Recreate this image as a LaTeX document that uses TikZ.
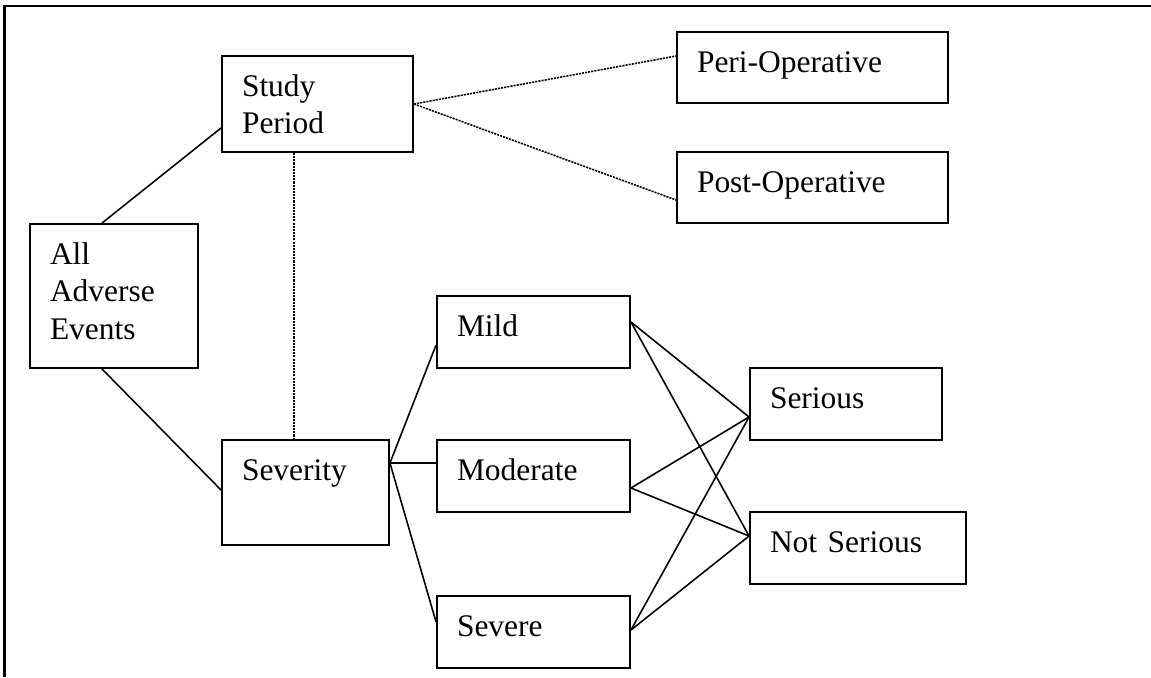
\documentclass[tikz,border=0pt]{standalone}
\usepackage{fontspec}
\setmainfont{Liberation Serif}
\usetikzlibrary{calc}

\begin{document}
\begin{tikzpicture}[
    x=0.02cm, y=-0.02cm,
    box/.style={draw, line width=1.1pt, inner sep=0pt, text height=0.8cm,
        text depth=0.64cm, font=\fontsize{17.9}{21.6}\selectfont,
        execute at begin node={\leftskip=0.4cm\rightskip=0pt plus 1fil}},
    link/.style={line width=0.9pt},
    faint/.style={line width=0.9pt, dash pattern=on 1.2pt off 0.6pt}
]
\useasboundingbox (0,0) rectangle (1151,677);
% --- Frame ---
\draw[line width=1.5pt] (4.5,677) -- (4.5,6) -- (1151,6);

% --- Root and study period ---
\node[box, text width=3.36cm, text depth=2.08cm] (all) at (114,296) {All\\Adverse\\Events};
\node[box, text width=3.82cm, text depth=1.12cm] (study) at (317.5,104) {Study\\Period};
\node[box, text width=5.42cm, text depth=0.62cm] (peri) at (812.5,67.5) {Peri-Operative};
\node[box, text width=5.42cm, text depth=0.62cm] (post) at (812.5,187.5) {Post-Operative};

% --- Severity ---
\node[box, text width=3.34cm, text depth=1.3cm] (severity) at (305.5,492.5) {Severity};
\node[box, text width=3.86cm] (mild) at (533.5,332) {Mild};
\node[box, text width=3.86cm] (moderate) at (533.5,476) {Moderate};
\node[box, text width=3.86cm] (severe) at (533.5,632) {Severe};
\node[box, text width=3.84cm] (serious) at (846,404) {Serious};
\node[box, text width=4.32cm] (notserious) at (858,548) {Not Serious};

% Connectors
\draw[link] ($(all.north)+(-12,0)$) -- ($(study.west)+(0,24)$);
\draw[link] ($(all.south)+(-12,0)$) -- ($(severity.west)+(0,-2.5)$);
\draw[faint] ($(study.south)+(-23.5,0)$) -- ($(severity.north)+(-11.5,0)$);
\draw[faint] (study.east) -- ($(peri.west)+(0,-11.5)$);
\draw[faint] (study.east) -- ($(post.west)+(0,12.5)$);

\draw[link] ($(severity.east)+(0,-29.5)$) -- ($(mild.west)+(0,13)$);
\draw[link] ($(severity.east)+(0,-29.5)$) -- ($(moderate.west)+(0,-13)$);
\draw[link] ($(severity.east)+(0,-29.5)$) -- ($(severe.west)+(0,-10)$);

\foreach \src/\dy in {mild/-10, moderate/12, severe/-2} {
    \draw[link] ($(\src.east)+(0,\dy)$) -- ($(serious.west)+(0,13)$);
    \draw[link] ($(\src.east)+(0,\dy)$) -- ($(notserious.west)+(0,-12)$);
}

\end{tikzpicture}
\end{document}
